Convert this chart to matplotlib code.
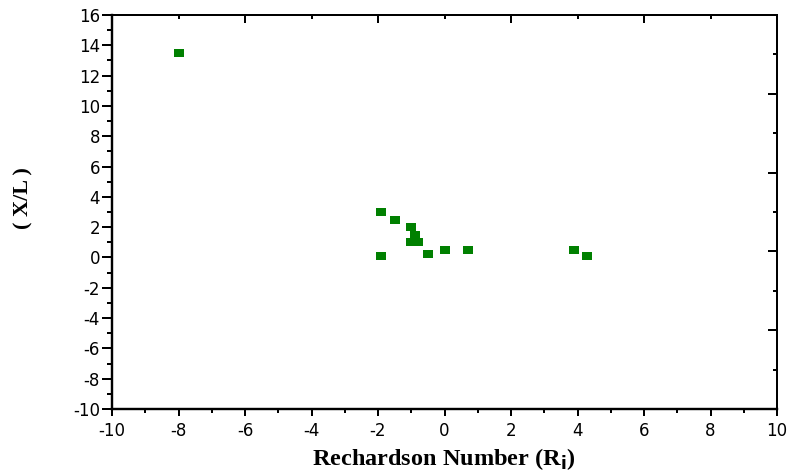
import matplotlib
matplotlib.use("Agg")
import matplotlib.pyplot as plt
from matplotlib.ticker import MultipleLocator
from matplotlib.path import Path

# Richardson number vs. X/L measurements
richardson = [-8.0, -1.9, -1.5, -1.0, -0.9, -1.0, -0.8, -0.5, 0.0, 0.7, -1.9, 3.9, 4.3]
x_over_l = [13.5, 3.0, 2.5, 2.0, 1.5, 1.0, 1.0, 0.2, 0.5, 0.5, 0.1, 0.5, 0.1]

x_ticks = [-10, -8, -6, -4, -2, 0, 2, 4, 6, 8, 10]
y_ticks = [-10, -8, -6, -4, -2, 0, 2, 4, 6, 8, 10, 12, 14, 16]

DPI = 100
fig = plt.figure(figsize=(7.89, 4.74), dpi=DPI)
rect_ax = [112 / 789, 1 - 409 / 474, 665 / 789, 394 / 474]
ax = fig.add_axes(rect_ax)

px = 72 / DPI  # points per pixel

# slightly wide rectangular marker
rect = Path([(-1.25, -1), (1.25, -1), (1.25, 1), (-1.25, 1), (-1.25, -1)],
            [Path.MOVETO, Path.LINETO, Path.LINETO, Path.LINETO, Path.CLOSEPOLY])
ax.plot(richardson, x_over_l, linestyle="none", marker=rect,
        markersize=10 * px, color="#008000", markeredgewidth=0, zorder=3)

ax.set_xlim(-10, 10)
ax.set_ylim(-10, 16)
ax.set_xticks(x_ticks)
ax.set_yticks(y_ticks)
ax.xaxis.set_minor_locator(MultipleLocator(1))
ax.yaxis.set_minor_locator(MultipleLocator(1))

tick_font = {"family": "DejaVu Sans", "size": 12}
ax.set_xticklabels([str(v) for v in x_ticks], fontdict=tick_font)
ax.set_yticklabels([str(v) for v in y_ticks], fontdict=tick_font)

ax.tick_params(axis="y", which="major", direction="out", length=10 * px,
               width=2 * px, pad=2 * px, right=False)
ax.tick_params(axis="y", which="minor", direction="out", length=5 * px,
               width=2 * px, right=False)
ax.tick_params(axis="x", which="major", direction="out", length=7 * px,
               width=2 * px, pad=6 * px, top=False)
ax.tick_params(axis="x", which="minor", direction="out", length=4 * px,
               width=2 * px, top=False)

for side in ("left", "bottom"):
    ax.spines[side].set_linewidth(2.4 * px)
for side in ("top", "right"):
    ax.spines[side].set_visible(False)

# opposite sides carry their own unlabeled five-division scale
frame = fig.add_axes(rect_ax, frameon=True)
frame.patch.set_visible(False)
frame.set_xlim(0, 5)
frame.set_ylim(0, 5)
frame.set_xticks([0, 1, 2, 3, 4, 5])
frame.set_xticks([0.5, 1.5, 2.5, 3.5, 4.5], minor=True)
frame.set_yticks([0, 1, 2, 3, 4, 5])
frame.set_yticks([0.5, 1.5, 2.5, 3.5, 4.5], minor=True)
frame.xaxis.tick_top()
frame.yaxis.tick_right()
frame.set_xticklabels([])
frame.set_yticklabels([])
frame.tick_params(axis="x", which="major", direction="in", length=8 * px, width=2 * px)
frame.tick_params(axis="x", which="minor", direction="in", length=4 * px, width=2 * px)
frame.tick_params(axis="y", which="major", direction="in", length=9 * px, width=2 * px)
frame.tick_params(axis="y", which="minor", direction="in", length=4 * px, width=2 * px)
for side in ("left", "bottom"):
    frame.spines[side].set_visible(False)
for side in ("top", "right"):
    frame.spines[side].set_linewidth(2.0 * px)

label_font = {"family": "Liberation Serif", "weight": "bold", "size": 17.5}
fig.text(444 / 789, 1 - 459 / 474, r"Rechardson Number (R$_\mathbf{i}$)",
         ha="center", va="center", fontdict=label_font)
fig.text(23 / 789, 1 - 198 / 474, "( X/L )", rotation=90,
         ha="center", va="center",
         fontdict={"family": "Liberation Serif", "weight": "bold", "size": 16})

fig.savefig("out.png", dpi=DPI)
